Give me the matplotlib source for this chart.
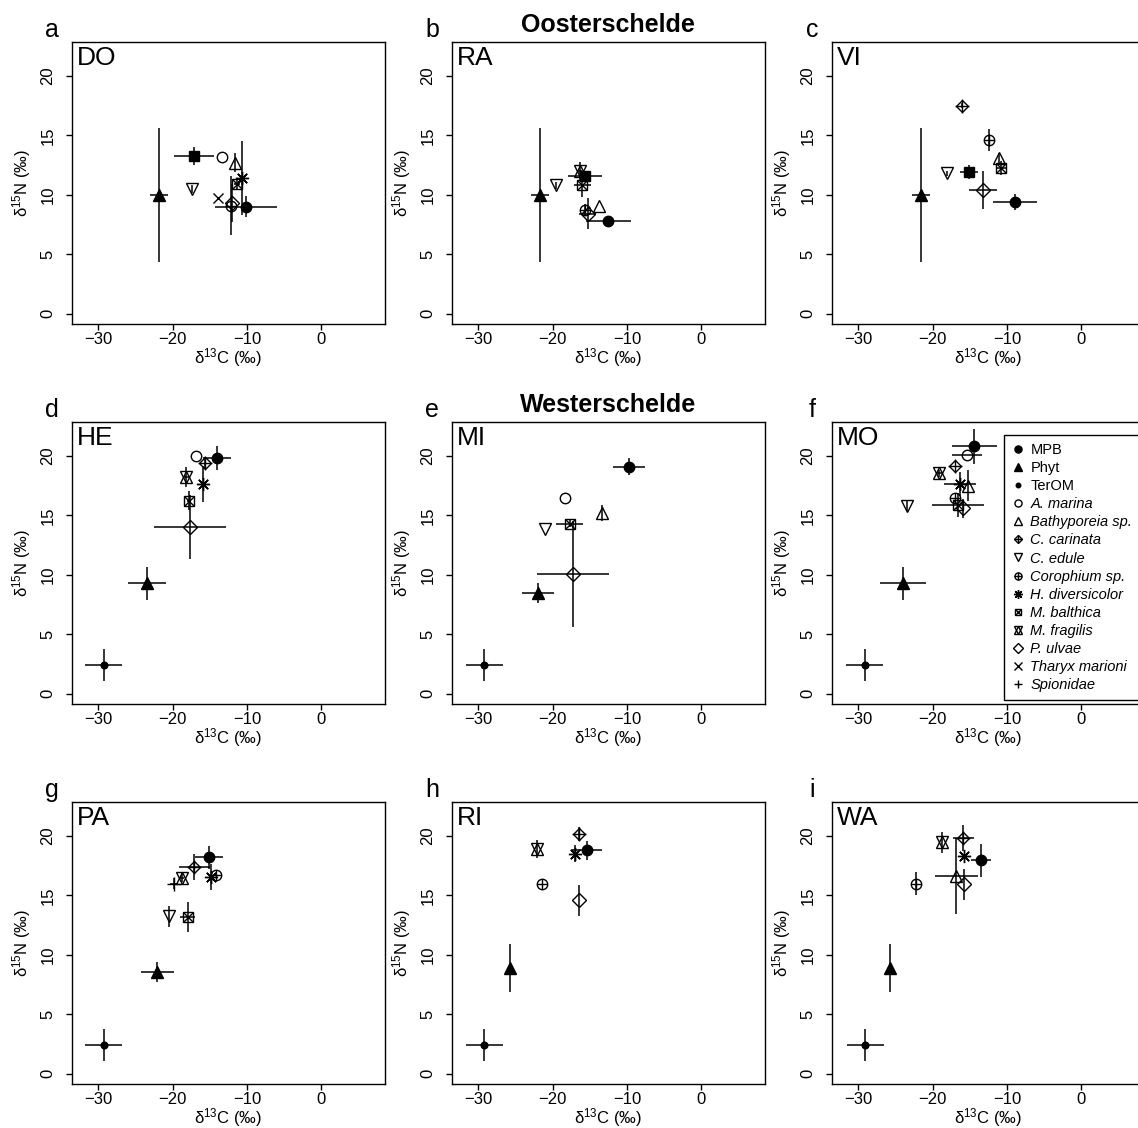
import matplotlib
matplotlib.use('Agg')
import matplotlib.pyplot as plt
from matplotlib.lines import Line2D

plt.rcParams['font.family'] = ['Liberation Sans', 'DejaVu Sans']
plt.rcParams['mathtext.default'] = 'regular'

# ---------------------------------------------------------------
# Data: (group, d13C mean, d15N mean, d13C sd, d15N sd) per site
# ---------------------------------------------------------------
DO = [
    ('Phyt', -21.8, 10.0, 1.2, 5.6),
    ('SOM', -17.1, 13.3, 2.7, 0.75),
    ('A. marina', -13.3, 13.2, 0, 0),
    ('Bathyporeia sp.', -11.6, 12.7, 0, 0.8),
    ('H. diversicolor', -10.6, 11.4, 0, 3.1),
    ('M. balthica', -11.3, 10.9, 0.4, 0.5),
    ('C. edule', -17.4, 10.5, 0, 0.3),
    ('Tharyx marioni', -13.9, 9.7, 0, 0),
    ('Corophium sp.', -12.2, 9.1, 0, 2.5),
    ('P. ulvae', -12.0, 9.3, 0, 1.6),
    ('MPB', -10.1, 9.0, 4.15, 0.9),
]
RA = [
    ('Phyt', -21.7, 10.0, 1.2, 5.6),
    ('C. edule', -19.55, 10.8, 0, 0.3),
    ('M. fragilis', -16.3, 12.0, 0.3, 0.8),
    ('SOM', -15.7, 11.6, 2.3, 0.4),
    ('M. balthica', -16.0, 10.8, 1.1, 1.0),
    ('Bathyporeia sp.', -13.8, 9.1, 0, 0),
    ('Corophium sp.', -15.6, 8.75, 0, 0.5),
    ('P. ulvae', -15.3, 8.4, 1.2, 1.3),
    ('MPB', -12.5, 7.8, 3.0, 0.3),
]
VI = [
    ('Phyt', -21.6, 10.0, 1.2, 5.6),
    ('C. carinata', -16.1, 17.5, 0, 0.2),
    ('Corophium sp.', -12.4, 14.6, 0, 0.95),
    ('Bathyporeia sp.', -11.1, 13.1, 0, 0.4),
    ('M. balthica', -10.8, 12.25, 0.7, 0.6),
    ('C. edule', -18.1, 11.8, 0, 0.2),
    ('SOM', -15.1, 11.95, 1.25, 0.6),
    ('P. ulvae', -13.2, 10.4, 1.85, 1.6),
    ('MPB', -8.9, 9.4, 3.0, 0.65),
]
HE = [
    ('TerOM', -29.3, 2.4, 2.5, 1.35),
    ('Phyt', -23.45, 9.3, 2.55, 1.4),
    ('P. ulvae', -17.6, 14.0, 4.85, 2.7),
    ('M. balthica', -17.8, 16.25, 0.3, 0.8),
    ('M. fragilis', -18.2, 18.2, 0.4, 0.85),
    ('A. marina', -16.8, 20.0, 0, 0),
    ('C. carinata', -15.7, 19.4, 0, 0.5),
    ('H. diversicolor', -15.9, 17.65, 0, 1.5),
    ('MPB', -14.0, 19.85, 1.9, 1.0),
]
MI = [
    ('TerOM', -29.2, 2.4, 2.5, 1.35),
    ('Phyt', -22.0, 8.5, 2.15, 0.85),
    ('C. edule', -21.1, 13.9, 0, 0),
    ('A. marina', -18.4, 16.5, 0, 0),
    ('M. balthica', -17.7, 14.3, 1.8, 0.3),
    ('P. ulvae', -17.3, 10.1, 4.85, 4.45),
    ('Bathyporeia sp.', -13.3, 15.2, 0, 0.7),
    ('MPB', -9.7, 19.1, 2.2, 0.7),
]
MO = [
    ('TerOM', -29.15, 2.4, 2.5, 1.35),
    ('Phyt', -24.0, 9.3, 3.15, 1.4),
    ('C. edule', -23.45, 15.8, 0, 0.4),
    ('M. fragilis', -19.1, 18.55, 0.4, 0.3),
    ('C. carinata', -17.0, 19.15, 0, 0),
    ('A. marina', -15.4, 20.1, 2.0, 0),
    ('MPB', -14.4, 20.8, 3.0, 1.5),
    ('H. diversicolor', -16.3, 17.65, 2.2, 1.0),
    ('Bathyporeia sp.', -15.3, 17.5, 0, 1.3),
    ('Corophium sp.', -17.0, 16.45, 0, 0),
    ('M. balthica', -16.55, 15.9, 3.5, 1.0),
    ('P. ulvae', -15.9, 15.6, 0, 0.8),
]
PA = [
    ('TerOM', -29.3, 2.4, 2.5, 1.35),
    ('Phyt', -22.05, 8.55, 2.2, 0.85),
    ('C. edule', -20.5, 13.25, 0, 0.9),
    ('M. balthica', -18.0, 13.2, 0.95, 1.25),
    ('Spionidae', -19.8, 16.0, 0.5, 0.5),
    ('M. fragilis', -18.8, 16.5, 0.3, 0.4),
    ('C. carinata', -17.1, 17.4, 2.1, 1.1),
    ('MPB', -15.15, 18.2, 1.9, 0.95),
    ('H. diversicolor', -14.85, 16.55, 0, 1.1),
    ('Corophium sp.', -14.2, 16.7, 0, 0),
]
RI = [
    ('TerOM', -29.2, 2.4, 2.5, 1.35),
    ('Phyt', -25.8, 8.9, 0, 2.0),
    ('M. fragilis', -22.15, 18.9, 0, 0.75),
    ('Corophium sp.', -21.5, 16.0, 0, 0),
    ('C. carinata', -16.45, 20.15, 0, 0.6),
    ('H. diversicolor', -17.0, 18.5, 0, 0.7),
    ('MPB', -15.4, 18.8, 2.0, 0.8),
    ('P. ulvae', -16.5, 14.6, 0, 1.3),
]
WA = [
    ('TerOM', -29.1, 2.4, 2.5, 1.35),
    ('Phyt', -25.8, 8.9, 0, 2.0),
    ('Corophium sp.', -22.25, 16.0, 0, 1.0),
    ('M. fragilis', -18.8, 19.45, 0, 0.9),
    ('C. carinata', -15.9, 19.8, 1.4, 1.1),
    ('H. diversicolor', -15.8, 18.3, 0, 0),
    ('MPB', -13.5, 17.95, 1.35, 1.4),
    ('Bathyporeia sp.', -16.8, 16.65, 2.9, 3.2),
    ('P. ulvae', -15.75, 15.95, 0, 1.3),
]

SITES = [('DO', DO), ('RA', RA), ('VI', VI),
         ('HE', HE), ('MI', MI), ('MO', MO),
         ('PA', PA), ('RI', RI), ('WA', WA)]
LETTERS = ['a', 'b', 'c', 'd', 'e', 'f', 'g', 'h', 'i']
LEGEND_GROUPS = ['MPB', 'Phyt', 'TerOM', 'A. marina', 'Bathyporeia sp.',
                 'C. carinata', 'C. edule', 'Corophium sp.', 'H. diversicolor',
                 'M. balthica', 'M. fragilis', 'P. ulvae', 'Tharyx marioni',
                 'Spionidae']

# marker layers per group (R-like pch symbols)
STYLE = {
    'MPB': [dict(marker='o', ms=7.5, mfc='k')],
    'Phyt': [dict(marker='^', ms=8.5, mfc='k')],
    'TerOM': [dict(marker='o', ms=4.8, mfc='k')],
    'A. marina': [dict(marker='o', ms=7.5, mfc='none')],
    'Bathyporeia sp.': [dict(marker='^', ms=9, mfc='none')],
    'C. carinata': [dict(marker='D', ms=6.5, mfc='none'), dict(marker='+', ms=9.5)],
    'C. edule': [dict(marker='v', ms=9, mfc='none')],
    'Corophium sp.': [dict(marker='o', ms=7.5, mfc='none'), dict(marker='+', ms=7.5)],
    'H. diversicolor': [dict(marker=(8, 2, 0), ms=9.5)],
    'M. balthica': [dict(marker='s', ms=6.8, mfc='none'), dict(marker='x', ms=6.8)],
    'M. fragilis': [dict(marker='^', ms=8.5, mfc='none'), dict(marker='v', ms=8.5, mfc='none')],
    'P. ulvae': [dict(marker='D', ms=7.2, mfc='none')],
    'Tharyx marioni': [dict(marker='x', ms=7.5)],
    'Spionidae': [dict(marker='+', ms=9.5)],
    'SOM': [dict(marker='s', ms=7.2, mfc='k')],
}

W, H = 1138, 1128
fig = plt.figure(figsize=(W / 100, H / 100), dpi=100)

axes = []
for i, (name, rows) in enumerate(SITES):
    r, c = divmod(i, 3)
    left = 71.7 + 380 * c
    top = 41.7 + 380 * r
    ax = fig.add_axes([left / W, 1 - (top + 282.6) / H, 313.3 / W, 282.6 / H])
    axes.append(ax)

    # error bars first, symbols on top
    for g, x, y, sx, sy in rows:
        ax.errorbar(x, y, xerr=sx, yerr=sy, fmt='none', ecolor='k',
                    elinewidth=1.1, capsize=0, zorder=2)
    for g, x, y, sx, sy in rows:
        for st in STYLE[g]:
            ax.plot(x, y, linestyle='none', color='k', mec='k', mew=1.0,
                    zorder=3, **st)

    ax.set_xlim(-33.6, 8.6)
    ax.set_ylim(-0.88, 22.88)
    ax.set_xticks([-30, -20, -10, 0])
    ax.set_yticks([0, 5, 10, 15, 20])
    ax.tick_params(direction='out', length=4.3, width=1, labelsize=12)
    ax.tick_params(axis='x', pad=1.5)
    ax.tick_params(axis='y', pad=7.5)
    for t in ax.get_yticklabels():
        t.set_rotation(90)
        t.set_va('center')
    for sp in ax.spines.values():
        sp.set_linewidth(1)
    ax.set_xlabel('δ$^{13}$C (‰)', fontsize=12, labelpad=-1)
    ax.set_ylabel('δ$^{15}$N (‰)', fontsize=12, labelpad=5)
    ax.text(0.015, 0.985, name, transform=ax.transAxes, ha='left', va='top',
            fontsize=19)
    fig.text((52 + 380 * c) / W, 1 - (30 + 380 * r) / H, LETTERS[i],
             ha='center', va='center', fontsize=18)

fig.text(608 / W, 1 - 25 / H, 'Oosterschelde', ha='center', va='center',
         fontsize=18, fontweight='bold')
fig.text(608 / W, 1 - 405 / H, 'Westerschelde', ha='center', va='center',
         fontsize=18, fontweight='bold')

# Legend sits in panel f and runs off the right edge
handles = []
for g in LEGEND_GROUPS:
    handles.append(tuple(Line2D([], [], linestyle='none', color='k', mec='k',
                                mew=1.0, **st) for st in STYLE[g]))
leg = axes[5].legend(handles, LEGEND_GROUPS, loc='upper left',
                     bbox_to_anchor=(1004 / W, 1 - 435 / H),
                     bbox_transform=fig.transFigure, borderaxespad=0,
                     fontsize=10.5, markerscale=0.68, handlelength=0.8,
                     handletextpad=0.45, labelspacing=0.28, borderpad=0.55,
                     fancybox=False, framealpha=1, edgecolor='k')
leg.get_frame().set_linewidth(1)
for t in leg.get_texts()[3:]:
    t.set_style('italic')

fig.savefig('out.png', dpi=100)
